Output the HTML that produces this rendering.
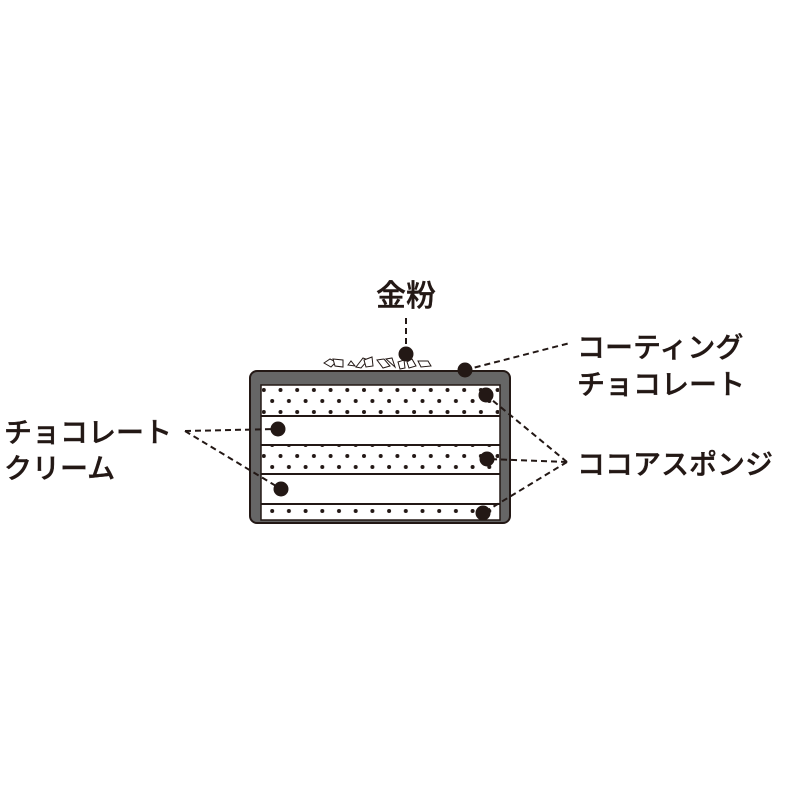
<!DOCTYPE html>
<html><head><meta charset="utf-8"><style>
body{margin:0;background:#fff;}
svg text{font-family:"Liberation Sans","Noto Sans CJK JP",sans-serif;fill:#231815;font-weight:500;stroke:#231815;stroke-width:0.4;}
</style></head><body>
<svg width="800" height="800" viewBox="0 0 800 800" xmlns="http://www.w3.org/2000/svg">
<defs>
<pattern id="dots" x="0" y="0" width="16.7" height="22" patternUnits="userSpaceOnUse">
<circle cx="5" cy="5" r="2" fill="#231815"/>
<circle cx="13.3" cy="16" r="2" fill="#231815"/>
</pattern>
</defs>
<rect x="0" y="0" width="800" height="800" fill="#fff"/>
<rect x="250" y="371" width="260" height="152" rx="7" fill="#666" stroke="#231815" stroke-width="2"/>
<rect x="261" y="385" width="239" height="135" fill="#fff" stroke="#231815" stroke-width="1.5"/>
<rect x="262" y="386" width="237" height="29" fill="url(#dots)"/>
<rect x="262" y="446" width="237" height="28" fill="url(#dots)"/>
<rect x="262" y="505" width="237" height="15" fill="url(#dots)"/>
<g stroke="#231815" stroke-width="2">
<line x1="261" y1="416" x2="500" y2="416"/>
<line x1="261" y1="445" x2="500" y2="445"/>
<line x1="261" y1="474" x2="500" y2="474"/>
<line x1="261" y1="504" x2="500" y2="504"/>
</g>
<g fill="#fff" stroke="#231815" stroke-width="1">
<polygon points="324,363 330,359 336,362 331,367"/>
<polygon points="333,359 343,360 343,367 335,366"/>
<polygon points="348,365 351,361 355,366"/>
<polygon points="356,367 363,358 368,360 361,368"/>
<polygon points="364,360 372,357 373,366 366,367"/>
<polygon points="377,360 384,359 390,366 383,368"/>
<polygon points="386,359 392,358 395,367"/>
<polygon points="398,362 404,360 405,368 400,369"/>
<polygon points="407,362 412,359 416,366 409,368"/>
<polygon points="418,361 428,361 431,366 421,367"/>
</g>
<g stroke="#231815" stroke-width="2" stroke-dasharray="6,4" fill="none">
<line x1="406" y1="318" x2="406" y2="350"/>
<line x1="465" y1="370" x2="570" y2="343"/>
<line x1="185" y1="431" x2="278" y2="429"/>
<line x1="185" y1="431" x2="281" y2="489"/>
<line x1="567" y1="462" x2="486" y2="395"/>
<line x1="567" y1="462" x2="487" y2="459"/>
<line x1="567" y1="462" x2="483" y2="513"/>
</g>
<g fill="#231815">
<circle cx="406" cy="354" r="7.5"/>
<circle cx="465" cy="370" r="7.5"/>
<circle cx="486" cy="395" r="7.5"/>
<circle cx="487" cy="459" r="7.5"/>
<circle cx="483" cy="513" r="7.5"/>
<circle cx="278" cy="429" r="7.5"/>
<circle cx="281" cy="489" r="7.5"/>
</g>
<text x="406" y="306" font-size="30" text-anchor="middle">金粉</text>
<text x="577" y="357" font-size="28">コーティング</text>
<text x="577" y="394" font-size="28">チョコレート</text>
<text x="577" y="474" font-size="28">ココアスポンジ</text>
<text x="4" y="442" font-size="28">チョコレート</text>
<text x="4" y="478" font-size="28">クリーム</text>
</svg>
</body></html>
